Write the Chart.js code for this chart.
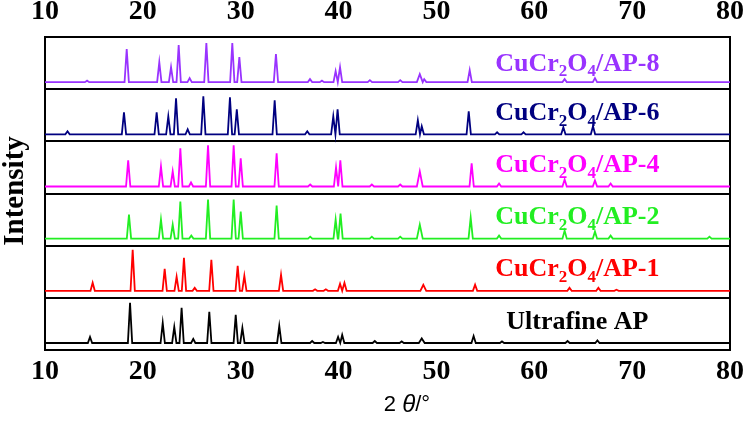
<!DOCTYPE html>
<html>
<head>
<meta charset="utf-8">
<script src="https://cdn.jsdelivr.net/npm/chart.js@4/dist/chart.umd.min.js"></script>
<style>
  html, body { margin: 0; padding: 0; background: #fff; }
  #wrap { width: 745px; height: 421px; }
</style>
</head>
<body>
<div id="wrap"><canvas id="xrd" width="745" height="421"></canvas></div>
<script>
// ---- data: [2theta, peak height (a.u.), optional half width] ----
const sampleNames = ["Ultrafine AP", "CuCr2O4/AP-1", "CuCr2O4/AP-2", "CuCr2O4/AP-4", "CuCr2O4/AP-6", "CuCr2O4/AP-8"];
const sampleColors = ["#000000", "#ff0000", "#22ee22", "#ff00ff", "#000080", "#9933ff"];

const peaksAP = [[14.6,6],[18.69,40],[22.03,20],[23.21,16],[23.96,35],[25.15,4],[26.79,31],[29.49,28],[30.17,15],
  [33.94,17],[37.3,2],[38.4,1],[39.95,6],[40.37,8],[43.7,2],[46.45,1.5],[48.5,4.5,0.3],[53.8,7],[56.7,1.5],[63.4,2],[66.45,2.5]];
const peaksAP1 = [[14.87,8],[18.96,41],[22.23,22],[23.45,14],[24.2,33],[25.3,3],[27.0,31],[29.69,25],[30.37,15],
  [34.12,16],[37.6,1.5],[38.7,1.5],[40.15,7],[40.6,8],[48.66,6,0.3],[53.95,6],[63.6,3],[66.55,3],[68.4,1]];
const peaksAP2 = [[18.58,24],[21.85,19],[23.05,14],[23.83,37],[24.95,3],[26.66,39],[29.28,39],[30.0,27],[33.67,33],
  [37.1,2],[39.7,19],[40.2,25],[43.4,2],[46.3,2],[48.3,14,0.3],[53.5,21],[56.4,3],[63.1,8],[66.2,7],[67.8,3],[77.9,2]];
const peaksAP4 = [[18.5,26],[21.85,20],[23.05,15],[23.83,38],[24.92,4],[26.66,41],[29.28,41],[30.0,28],[33.67,33],
  [37.1,2],[39.74,19],[40.18,26],[43.4,2],[46.3,2],[48.3,15,0.3],[53.6,23],[56.4,3],[63.1,7],[66.2,6],[67.8,3]];
const peaksAP6 = [[12.3,3],[18.07,22],[21.41,22],[22.6,18],[23.39,36],[24.58,5],[26.18,38],[28.9,37],[29.6,25],
  [33.47,34],[36.8,3],[39.46,18],[39.9,25],[48.1,14],[48.5,8],[53.3,23],[56.2,2],[58.9,2],[62.97,7],[66.0,8]];
const peaksAP8 = [[14.3,1.5],[18.35,33],[21.68,20],[22.88,15],[23.66,37],[24.78,4],[26.49,39],[29.14,39],[29.86,25],
  [33.6,28],[37.08,3],[38.3,1.5],[39.7,11],[40.15,15],[43.2,2],[46.3,2],[48.3,8,0.3],[48.75,3],[53.4,12],[63.1,3],[66.2,4]];

const allPeaks = [peaksAP, peaksAP1, peaksAP2, peaksAP4, peaksAP6, peaksAP8];
const xTicks = [10, 20, 30, 40, 50, 60, 70, 80];

const PANEL = 52;   // vertical offset between stacked patterns
const BASE = 7;     // baseline height inside a panel

function buildPattern(peaks, k) {
  const b = k * PANEL + BASE;
  const pts = [{x: 10, y: b}];
  peaks.slice().sort((a, c) => a[0] - c[0]).forEach(p => {
    const w = p[2] || 0.22;
    pts.push({x: p[0] - w, y: b});
    pts.push({x: p[0], y: b + p[1]});
    pts.push({x: p[0] + w, y: b});
  });
  pts.push({x: 80, y: b});
  return pts;
}

const datasets = allPeaks.map((pk, k) => ({
  label: sampleNames[k],
  data: buildPattern(pk, k),
  borderColor: sampleColors[k],
  borderWidth: 1.8,
  pointRadius: 0,
  showLine: true,
  fill: false,
  tension: 0
}));

const serif = "'Liberation Serif', 'Times New Roman', serif";

// panel labels, axis titles
const decorations = {
  id: "decorations",
  afterDatasetsDraw(chart) {
    const ctx = chart.ctx;
    const xs = chart.scales.x, ys = chart.scales.y;
    ctx.save();
    sampleNames.forEach((name, k) => {
      let parts;
      if (name.startsWith("CuCr2O4")) {
        parts = [["CuCr", 0], ["2", 1], ["O", 0], ["4", 1], [name.slice(7), 0]];
      } else {
        parts = [[name, 0]];
      }
      const big = "bold 26px " + serif, small = "bold 17px " + serif;
      let total = 0;
      parts.forEach(p => { ctx.font = p[1] ? small : big; total += ctx.measureText(p[0]).width; });
      let x = xs.getPixelForValue(64.4) - total / 2;
      const y = ys.getPixelForValue((k + 1) * PANEL) + (k === 5 ? 27 : 24);
      ctx.fillStyle = sampleColors[k];
      ctx.textBaseline = "middle";
      ctx.textAlign = "left";
      parts.forEach(p => {
        ctx.font = p[1] ? small : big;
        ctx.fillText(p[0], x, p[1] ? y + 8 : y);
        x += ctx.measureText(p[0]).width;
      });
    });

    // x title: 2θ/°
    ctx.fillStyle = "#000";
    ctx.textBaseline = "middle";
    const sans = "'Liberation Sans', Arial, sans-serif";
    const t = [["2 ", "22px " + sans], ["\u03b8", "italic 24px " + sans], ["/\u00b0", "22px " + sans]];
    let tw = 0;
    t.forEach(p => { ctx.font = p[1]; tw += ctx.measureText(p[0]).width; });
    let tx = 407 - tw / 2;
    t.forEach(p => { ctx.font = p[1]; ctx.fillText(p[0], tx, 405); tx += ctx.measureText(p[0]).width; });

    // y title
    ctx.translate(16, 191);
    ctx.rotate(-Math.PI / 2);
    ctx.textAlign = "center";
    ctx.font = "bold 29px " + serif;
    ctx.fillText("Intensity", 0, 0);
    ctx.restore();
  }
};

const tickFont = { family: serif, size: 28, weight: "bold" };

function fitX(h) {
  return s => { s.height = h; s.paddingLeft = 0; s.paddingRight = 0; };
}

new Chart(document.getElementById("xrd"), {
  type: "scatter",
  data: { datasets: datasets },
  options: {
    responsive: false,
    animation: false,
    layout: { padding: 0 },
    plugins: { legend: { display: false }, tooltip: { enabled: false } },
    scales: {
      x: {
        type: "linear", position: "bottom", min: 10, max: 80,
        afterBuildTicks: s => { s.ticks = xTicks.map(v => ({ value: v })); },
        afterFit: fitX(71),
        grid: { display: false, drawTicks: false },
        border: { color: "#000", width: 2 },
        ticks: { color: "#000", font: tickFont, padding: 5, maxRotation: 0 }
      },
      x2: {
        type: "linear", position: "top", min: 10, max: 80,
        afterBuildTicks: s => { s.ticks = xTicks.map(v => ({ value: v })); },
        afterFit: fitX(37),
        grid: { display: false, drawTicks: false },
        border: { color: "#000", width: 2 },
        ticks: { color: "#000", font: tickFont, padding: 8, maxRotation: 0 }
      },
      y: {
        position: "left", min: 0, max: 6 * PANEL,
        afterFit: s => { s.width = 45; },
        ticks: { display: false, stepSize: PANEL },
        grid: { color: "#000", lineWidth: 2, drawTicks: false },
        border: { color: "#000", width: 2 }
      },
      y2: {
        position: "right", min: 0, max: 6 * PANEL,
        afterFit: s => { s.width = 15; },
        ticks: { display: false },
        grid: { display: false, drawTicks: false },
        border: { color: "#000", width: 2 }
      }
    }
  },
  plugins: [decorations]
});
</script>
</body>
</html>
